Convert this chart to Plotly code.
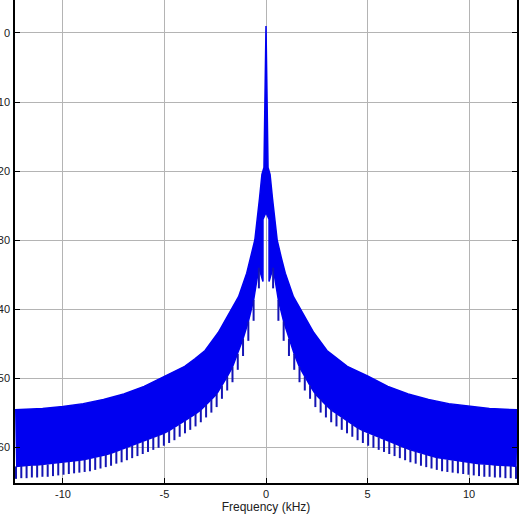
import plotly.graph_objects as go

# Spectrum (kHz, dB); the plot is symmetric about 0 Hz,
# so only the positive-frequency half is listed and mirrored below.
UP_F = [0.0, 0.1, 0.2, 0.32, 0.55, 0.75, 0.95, 1.35, 1.7, 2.0, 2.35, 3.0, 3.5,
        4.0, 5.0, 6.0, 7.0, 8.0, 9.0, 10.0, 11.0, 12.36]
UP_DB = [1.0, -19.5, -20.5, -24.0, -30.0, -32.5, -34.8, -38.2, -40.0, -41.6, -43.4,
         -46.0, -47.2, -48.3, -49.7, -51.2, -52.3, -53.1, -53.7, -54.1, -54.4, -54.6]

# small gap under the main lobe
CORE_F = [0.0, 0.15, 0.15]
CORE_DB = [-26.0, -27.0, -36.0]

# lower edge of the band: notch level and tip of each downward spike
SPIKE_F = [0.35, 0.61, 0.87, 1.13, 1.39, 1.65, 1.91, 2.17, 2.43, 2.69, 2.95, 3.21,
           3.47, 3.73, 3.99, 4.25, 4.51, 4.77, 5.03, 5.29, 5.55, 5.81, 6.07, 6.33,
           6.59, 6.85, 7.11, 7.37, 7.63, 7.89, 8.15, 8.41, 8.67, 8.93, 9.19, 9.45,
           9.71, 9.97, 10.23, 10.49, 10.75, 11.01, 11.27, 11.53, 11.79, 12.05, 12.31]
NOTCH_DB = [-34.0, -38.7, -41.8, -44.3, -46.5, -48.4, -49.8, -51.1, -52.3, -53.1,
            -53.9, -54.6, -55.2, -55.7, -56.2, -56.7, -57.2, -57.6, -58.0, -58.3,
            -58.6, -58.9, -59.2, -59.5, -59.8, -60.1, -60.4, -60.6, -60.9, -61.1,
            -61.3, -61.5, -61.7, -61.8, -61.9, -62.0, -62.1, -62.2, -62.3, -62.4,
            -62.5, -62.5, -62.6, -62.6, -62.7, -62.7, -62.8]
TIP_DB = [-37.0, -41.7, -44.6, -46.8, -48.8, -50.6, -51.8, -53.0, -54.2, -55.0,
          -55.7, -56.4, -57.0, -57.5, -58.0, -58.5, -59.0, -59.4, -59.8, -60.1,
          -60.4, -60.7, -61.0, -61.3, -61.6, -61.9, -62.2, -62.4, -62.7, -62.9,
          -63.1, -63.3, -63.5, -63.6, -63.7, -63.8, -63.9, -64.0, -64.1, -64.2,
          -64.3, -64.3, -64.4, -64.4, -64.5, -64.5, -64.6]

Y_TICKS = [0, -10, -20, -30, -40, -50, -60]
X_TICKS = [-10, -5, 0, 5, 10]

BLUE = "#0000f0"
GRID = "#b4b4b4"
FONT = "Liberation Sans"

# band outline: upper envelope left->right, then lower edge right->left
band_x = [-f for f in UP_F[:0:-1]] + UP_F
band_y = UP_DB[:0:-1] + UP_DB
band_x += SPIKE_F[::-1] + CORE_F[:0:-1] + [-f for f in CORE_F] + [-f for f in SPIKE_F]
band_y += NOTCH_DB[::-1] + CORE_DB[:0:-1] + CORE_DB + NOTCH_DB

spike_x, spike_y = [], []
for sign in (-1, 1):
    for f, n, t in zip(SPIKE_F, NOTCH_DB, TIP_DB):
        spike_x += [sign * f, sign * f, None]
        spike_y += [n, t, None]

fig = go.Figure()
fig.add_trace(go.Scatter(x=band_x, y=band_y, mode="lines", fill="toself",
                         fillcolor=BLUE, line=dict(color=BLUE, width=1.5),
                         hoverinfo="skip", showlegend=False))
fig.add_trace(go.Scatter(x=spike_x, y=spike_y, mode="lines",
                         line=dict(color="#1414b4", width=2),
                         hoverinfo="skip", showlegend=False))

fig.update_layout(
    width=523, height=523,
    margin=dict(l=15, r=6, t=0, b=40),
    paper_bgcolor="white", plot_bgcolor="white",
    font=dict(family=FONT, size=11, color="#202020"),
)
fig.update_xaxes(
    range=[-12.36, 12.36], tickvals=X_TICKS, ticktext=[str(v) for v in X_TICKS],
    showgrid=True, gridcolor=GRID, gridwidth=1, zeroline=False,
    showline=True, linecolor="black", linewidth=1.5, mirror=False,
    ticks="inside", ticklen=5, tickcolor="black",
    title=dict(text="Frequency (kHz)", standoff=2, font=dict(size=12)),
)
# the reference is a crop: the dB labels run off the left edge
fig.update_yaxes(
    range=[-65.2, 4.78], tickvals=Y_TICKS, ticktext=[str(v) for v in Y_TICKS],
    showgrid=True, gridcolor=GRID, gridwidth=1, zeroline=False,
    showline=True, linecolor="black", linewidth=1.5, mirror="ticks",
    ticks="inside", ticklen=5, tickcolor="black",
    automargin=False, ticklabelstandoff=1,
)

# drop the browser's default 8px body margin so the figure sits at the corner
fig.write_html("out.html", config={"displayModeBar": False},
               post_script="document.body.style.margin='0';")
